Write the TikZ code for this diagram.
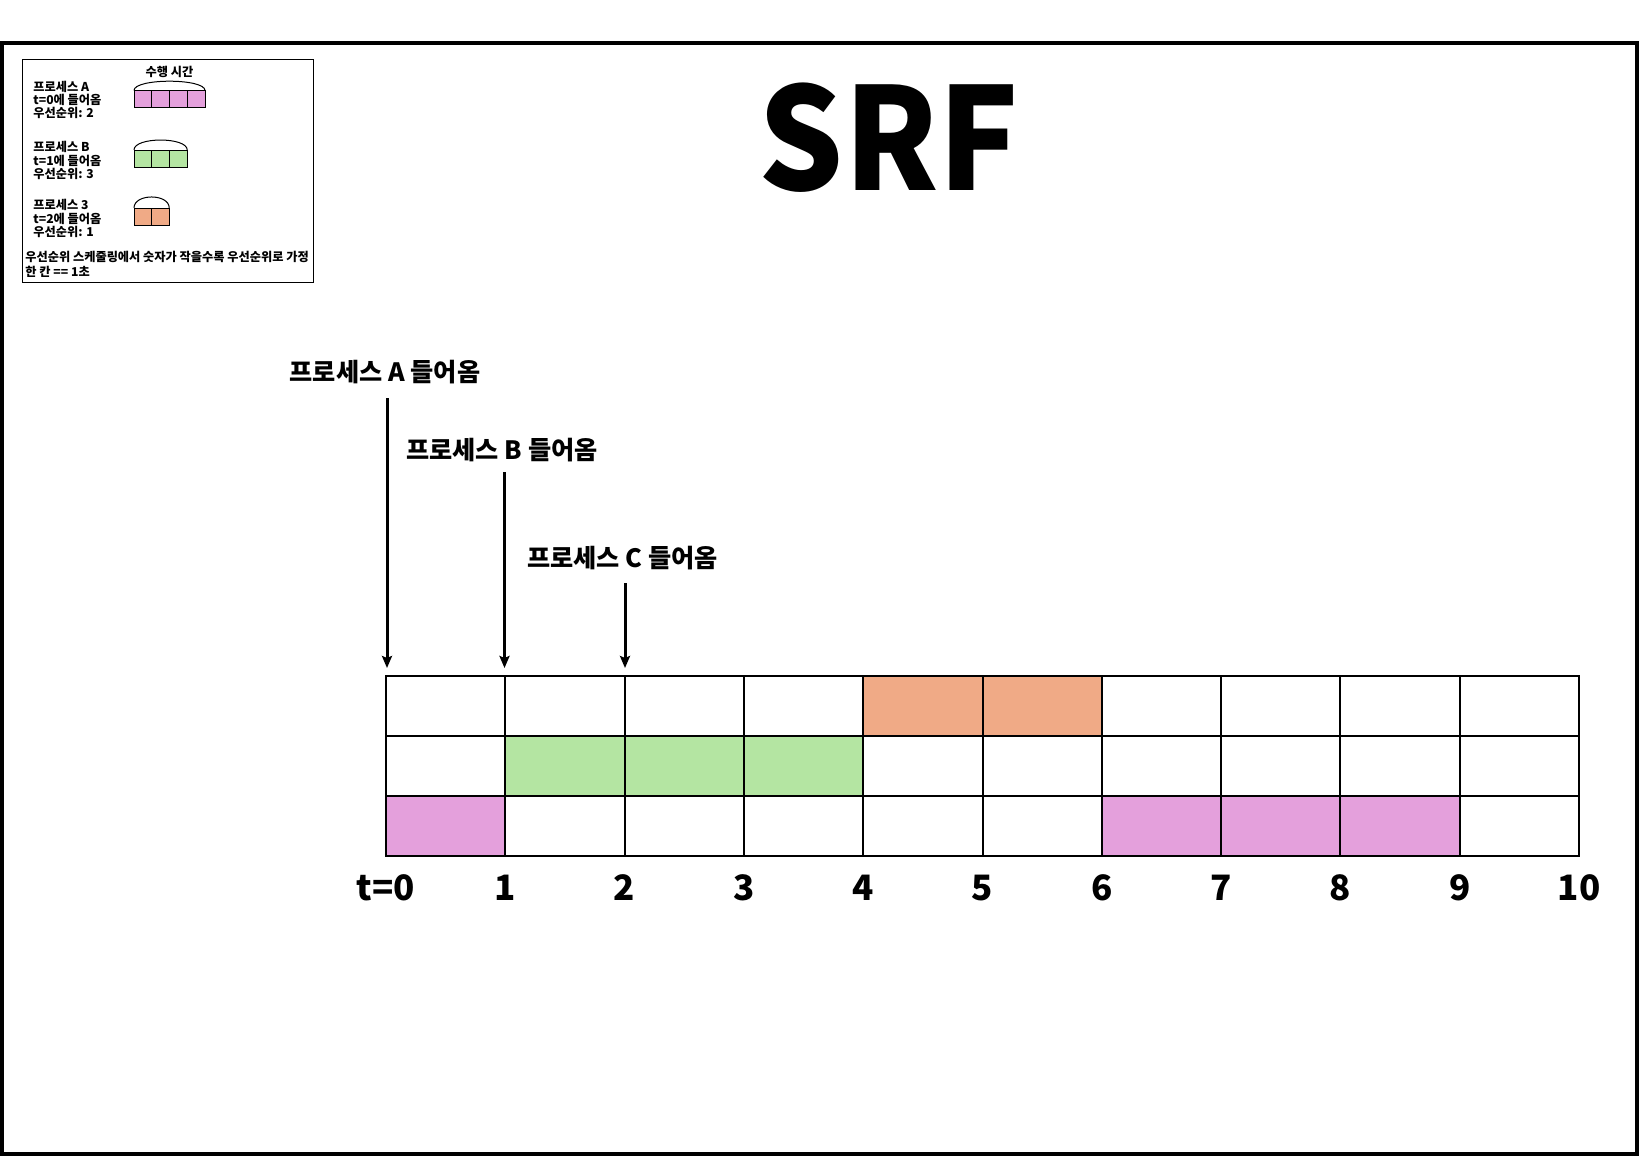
\documentclass[tikz,border=0pt]{standalone}
\usepackage{fontspec}
\setmainfont{Noto Sans CJK KR}
\usetikzlibrary{arrows.meta}
\definecolor{ppink}{RGB}{228,160,220}
\definecolor{pgreen}{RGB}{180,229,162}
\definecolor{porange}{RGB}{240,170,134}
\begin{document}
\begin{tikzpicture}[x=0.5pt,y=-0.5pt,
  cell/.style={draw, line width=1pt, minimum width=59.65pt, minimum height=30pt, inner sep=0pt, outer sep=0pt, anchor=north west},
  lcell/.style={draw, line width=0.5pt, minimum width=8.875pt, minimum height=8.5pt, inner sep=0pt, outer sep=0pt, anchor=north west},
  tlab/.style={font=\fontsize{17.5}{18}\selectfont\bfseries, inner sep=0pt},
  plab/.style={font=\fontsize{12.6}{13}\selectfont\bfseries, inner sep=0pt},
  ltext/.style={font=\fontsize{6.1}{6.6}\selectfont\bfseries, inner sep=0pt, align=left, anchor=west},
  arr/.style={line width=1.5pt, -{Stealth[length=6pt,width=5pt,inset=1pt]}, shorten >=4pt},
  lcurve/.style={line width=0.5pt}
]
\useasboundingbox (0,0) rectangle (1640,1157);
% outer frame
\draw[line width=2pt] (2,43) rectangle (1637,1154);

% title
\node[font=\fontsize{71}{72}\selectfont\bfseries, inner sep=0pt, xscale=0.94] (title) at (889,138) {SRF};

% legend
\node[draw, line width=0.45pt, minimum width=145.5pt, minimum height=111.5pt, inner sep=0pt, outer sep=0pt, anchor=north west] (legend) at (22,59) {};
\node[font=\fontsize{6.1}{6.6}\selectfont\bfseries, inner sep=0pt] (lhead) at (169.5,72) {수행 시간};
\node[ltext] (ltA) at (33,100) {프로세스 A\\t=0에 들어옴\\우선순위: 2};
\node[ltext] (ltB) at (33,160.5) {프로세스 B\\t=1에 들어옴\\우선순위: 3};
\node[ltext] (ltC) at (33,218.5) {프로세스 3\\t=2에 들어옴\\우선순위: 1};
\node[ltext, font=\fontsize{6.1}{7.5}\selectfont\bfseries] (lnote) at (25,264) {우선순위 스케줄링에서 숫자가 작을수록 우선순위로 가정\\한 칸 == 1초};

\foreach \i in {0,...,3} \node[lcell, fill=ppink] (la-\i) at ({134+17.75*\i},90.5) {};
\foreach \i in {0,...,2} \node[lcell, fill=pgreen] (lb-\i) at ({134+17.75*\i},150) {};
\foreach \i in {0,...,1} \node[lcell, fill=porange] (lc-\i) at ({134+17.5*\i},208) {};
\draw[lcurve] (la-0.north west) .. controls +(0,-12.4) and +(0,-12.4) .. (la-3.north east);
\draw[lcurve] (lb-0.north west) .. controls +(0,-13.3) and +(0,-13.3) .. (lb-2.north east);
\draw[lcurve] (lc-0.north west) .. controls +(0,-14.7) and +(0,-14.7) .. (lc-1.north east);

% grid
\foreach \col [count=\c from 0] in {white,white,white,white,porange,porange,white,white,white,white}
  \node[cell, fill=\col] (cell-1-\c) at ({386+119.3*\c},676) {};
\foreach \col [count=\c from 0] in {white,pgreen,pgreen,pgreen,white,white,white,white,white,white}
  \node[cell, fill=\col] (cell-2-\c) at ({386+119.3*\c},736) {};
\foreach \col [count=\c from 0] in {ppink,white,white,white,white,white,ppink,ppink,ppink,white}
  \node[cell, fill=\col] (cell-3-\c) at ({386+119.3*\c},796) {};

% time labels
\foreach \lab [count=\i from 0] in {t=0,1,2,3,4,5,6,7,8,9,10}
  \node[tlab] (t\i) at ({386+119.3*\i},888) {\lab};

% arrival labels and arrows
\node[plab] (pa) at (385,372) {프로세스 A 들어옴};
\node[plab] (pb) at (502,450) {프로세스 B 들어옴};
\node[plab] (pc) at (622.5,558) {프로세스 C 들어옴};
\coordinate (sa) at (387,398);
\coordinate (sb) at (504.5,472);
\coordinate (sc) at (625,583);
\draw[arr] (sa) -- (sa |- cell-1-0.north west);
\draw[arr] (sb) -- (sb |- cell-1-1.north west);
\draw[arr] (sc) -- (sc |- cell-1-2.north west);
\end{tikzpicture}
\end{document}
